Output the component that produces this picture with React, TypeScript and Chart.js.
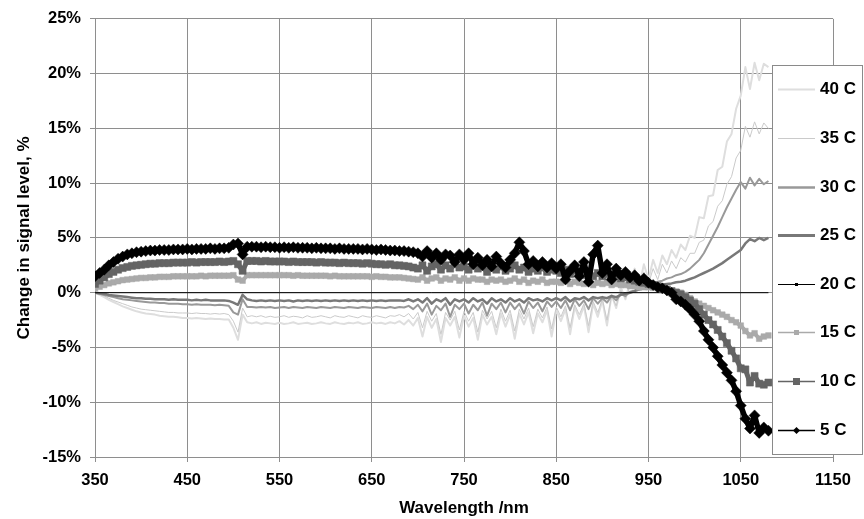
import React, { useEffect, useRef } from "react";
import { Chart, registerables } from "chart.js";

Chart.register(...registerables);

// ---------- data ----------
const wavelengths = [
  350, 355, 360, 365, 370, 375, 380, 385, 390, 395,
  400, 405, 410, 415, 420, 425, 430, 435, 440, 445,
  450, 455, 460, 465, 470, 475, 480, 485, 490, 495,
  500, 505, 510, 515, 520, 525, 530, 535, 540, 545,
  550, 555, 560, 565, 570, 575, 580, 585, 590, 595,
  600, 605, 610, 615, 620, 625, 630, 635, 640, 645,
  650, 655, 660, 665, 670, 675, 680, 685, 690, 695,
  700, 705, 710, 715, 720, 725, 730, 735, 740, 745,
  750, 755, 760, 765, 770, 775, 780, 785, 790, 795,
  800, 805, 810, 815, 820, 825, 830, 835, 840, 845,
  850, 855, 860, 865, 870, 875, 880, 885, 890, 895,
  900, 905, 910, 915, 920, 925, 930, 935, 940, 945,
  950, 955, 960, 965, 970, 975, 980, 985, 990, 995,
  1000, 1005, 1010, 1015, 1020, 1025, 1030, 1035, 1040, 1045,
  1050, 1055, 1060, 1065, 1070, 1075, 1080,
];

const c40 = [
  0.0, -0.2, -0.4, -0.65, -0.85, -1.05, -1.25, -1.4, -1.55, -1.7,
  -1.8, -1.9, -1.95, -2.0, -2.1, -2.15, -2.2, -2.2, -2.25, -2.3,
  -2.3, -2.35, -2.3, -2.35, -2.4, -2.35, -2.4, -2.4, -2.45, -2.45,
  -3.2, -4.3, -2.0, -2.7, -2.8, -2.7, -2.85, -2.75, -2.8, -2.85,
  -2.75, -2.85, -2.8, -2.7, -2.85, -2.8, -2.75, -2.85, -2.8, -2.7,
  -2.8, -2.85, -2.7, -2.8, -2.85, -2.75, -2.8, -2.7, -2.85, -2.8,
  -2.7, -2.8, -2.75, -2.85, -2.7, -2.8, -2.6, -2.9, -2.5, -3.0,
  -2.3, -4.0, -2.2, -3.2, -2.4, -4.5, -2.3, -3.0, -2.2, -4.1,
  -2.1, -3.1, -2.3, -4.3, -2.0, -2.9, -2.2, -3.8, -1.9, -3.1,
  -2.0, -4.2, -1.9, -2.9, -1.8, -3.7, -1.9, -2.7, -1.6, -4.0,
  -1.6, -2.6, -1.5, -3.8, -1.3, -2.4, -1.2, -3.6, -1.0, -2.2,
  -0.7, -3.0, -0.2, -1.4, 0.5, -0.6, 1.0, 2.2, 0.6, 2.6,
  1.2, 3.0, 1.8, 3.4, 2.6, 3.9, 3.2, 4.4, 3.9, 5.2,
  5.0, 6.9, 6.8, 8.8, 8.9, 11.2, 11.5, 13.8, 14.5, 16.8,
  18.0, 20.6, 18.6, 21.0, 19.4, 20.9, 20.6,
];

const c35 = [
  0.0, -0.15, -0.3, -0.5, -0.7, -0.85, -1.0, -1.15, -1.3, -1.4,
  -1.5, -1.55, -1.6, -1.65, -1.7, -1.75, -1.8, -1.8, -1.85, -1.85,
  -1.85, -1.9, -1.85, -1.9, -1.9, -1.95, -1.9, -1.95, -1.9, -2.0,
  -2.6, -3.6, -1.4, -2.2, -2.1, -2.2, -2.1, -2.25, -2.15, -2.25,
  -2.2, -2.1, -2.25, -2.15, -2.2, -2.3, -2.1, -2.25, -2.2, -2.1,
  -2.2, -2.3, -2.1, -2.2, -2.25, -2.1, -2.2, -2.3, -2.1, -2.2,
  -2.25, -2.1, -2.2, -2.3, -2.1, -2.15, -2.0, -2.2, -1.9, -2.4,
  -1.8, -3.2, -1.7, -2.6, -1.9, -3.8, -1.8, -2.5, -1.7, -3.4,
  -1.7, -2.6, -1.8, -3.6, -1.6, -2.4, -1.7, -3.2, -1.5, -2.6,
  -1.6, -3.5, -1.5, -2.4, -1.4, -3.1, -1.5, -2.3, -1.3, -3.3,
  -1.3, -2.2, -1.2, -3.2, -1.1, -2.0, -1.0, -3.0, -0.8, -1.8,
  -0.6, -2.5, -0.3, -1.2, 0.2, -0.5, 0.6, 1.5, 0.4, 1.9,
  0.8, 2.2, 1.2, 2.6, 1.8, 2.9, 2.2, 3.2, 2.8, 3.6,
  3.6, 4.6, 4.8, 6.1, 6.5, 7.9, 8.4, 9.9, 10.6, 12.3,
  13.0, 15.2, 14.2, 15.6, 14.5, 15.5, 15.0,
];

const c30 = [
  0.0, -0.1, -0.2, -0.3, -0.4, -0.5, -0.6, -0.65, -0.7, -0.75,
  -0.8, -0.85, -0.9, -0.9, -0.95, -0.95, -1.0, -1.0, -1.0, -1.05,
  -1.05, -1.1, -1.05, -1.1, -1.1, -1.1, -1.15, -1.1, -1.15, -1.2,
  -1.8, -2.0, -0.6, -1.3, -1.3, -1.35, -1.3, -1.35, -1.3, -1.4,
  -1.35, -1.3, -1.4, -1.3, -1.35, -1.4, -1.3, -1.35, -1.4, -1.3,
  -1.35, -1.4, -1.3, -1.35, -1.4, -1.3, -1.35, -1.4, -1.3, -1.35,
  -1.4, -1.3, -1.35, -1.4, -1.3, -1.4, -1.3, -1.35, -1.2, -1.5,
  -1.1, -1.7, -1.0, -2.0, -1.2, -1.6, -1.0, -2.2, -1.1, -1.5,
  -1.0, -1.9, -1.1, -1.6, -0.9, -2.1, -1.0, -1.5, -0.9, -1.8,
  -0.9, -1.5, -1.0, -1.9, -0.8, -1.4, -0.9, -1.7, -0.8, -1.3,
  -0.8, -1.4, -0.7, -1.6, -0.6, -1.2, -0.7, -1.5, -0.5, -1.0,
  -0.5, -0.9, -0.3, -0.7, -0.1, -0.3, 0.1, 0.2, 0.4, 0.5,
  0.7, 0.8, 1.0, 1.1, 1.3, 1.4, 1.6, 1.7, 1.9, 2.2,
  2.6, 3.0, 3.6, 4.4, 5.2, 6.0, 6.9, 7.8, 8.6, 9.4,
  10.1, 9.5, 10.5, 9.8, 10.4, 9.9, 10.2,
];

const c25 = [
  0.0, -0.05, -0.1, -0.2, -0.25, -0.3, -0.35, -0.4, -0.45, -0.5,
  -0.5, -0.55, -0.55, -0.6, -0.6, -0.6, -0.65, -0.6, -0.65, -0.65,
  -0.65, -0.7, -0.65, -0.7, -0.65, -0.7, -0.7, -0.7, -0.7, -0.75,
  -0.9, -1.1, -0.2, -0.6, -0.7, -0.75, -0.7, -0.75, -0.7, -0.75,
  -0.7, -0.75, -0.7, -0.8, -0.7, -0.75, -0.7, -0.75, -0.7, -0.75,
  -0.7, -0.75, -0.7, -0.75, -0.7, -0.75, -0.7, -0.75, -0.7, -0.75,
  -0.7, -0.75, -0.7, -0.75, -0.7, -0.7, -0.7, -0.75, -0.6, -0.8,
  -0.6, -0.9, -0.5, -1.0, -0.6, -0.8, -0.5, -1.1, -0.6, -0.8,
  -0.6, -0.9, -0.5, -0.8, -0.6, -1.0, -0.5, -0.8, -0.6, -0.9,
  -0.5, -0.8, -0.6, -0.9, -0.5, -0.7, -0.6, -0.8, -0.5, -0.7,
  -0.5, -0.7, -0.4, -0.8, -0.5, -0.6, -0.4, -0.7, -0.4, -0.5,
  -0.4, -0.5, -0.3, -0.4, -0.2, -0.1, 0.0, 0.15, 0.3, 0.4,
  0.5, 0.6, 0.7, 0.75, 0.8, 0.85, 0.95, 1.0, 1.1, 1.25,
  1.4, 1.6, 1.8, 2.0, 2.2, 2.45, 2.7, 3.0, 3.3, 3.6,
  3.9, 4.5, 4.9, 4.7, 5.0, 4.8, 5.0,
];

const wavelengths20 = [350, 1080];
const c20 = [0, 0];

const c15 = [
  0.4, 0.55, 0.7, 0.85, 0.95, 1.05, 1.15, 1.2, 1.25, 1.3,
  1.35, 1.35, 1.4, 1.4, 1.45, 1.45, 1.45, 1.5, 1.5, 1.5,
  1.5, 1.5, 1.5, 1.55, 1.5, 1.55, 1.55, 1.55, 1.55, 1.55,
  1.6, 1.2, 1.1, 1.6, 1.6, 1.6, 1.6, 1.6, 1.6, 1.6,
  1.6, 1.6, 1.6, 1.55, 1.6, 1.55, 1.55, 1.55, 1.55, 1.55,
  1.55, 1.5, 1.55, 1.5, 1.5, 1.5, 1.5, 1.5, 1.5, 1.5,
  1.45, 1.5, 1.45, 1.45, 1.4, 1.4, 1.4, 1.35, 1.3, 1.25,
  1.2, 1.4, 1.1, 1.3, 1.4, 1.1, 1.3, 1.2, 1.4, 1.1,
  1.3, 1.1, 1.3, 1.2, 1.2, 1.0, 1.2, 1.1, 1.2, 1.0,
  1.1, 1.3, 1.0, 1.2, 0.9, 1.1, 1.0, 1.2, 0.9, 1.0,
  1.0, 0.9, 1.1, 0.8, 1.0, 0.9, 0.8, 1.0, 0.7, 0.9,
  0.8, 0.9, 0.7, 0.8, 0.7, 0.7, 0.6, 0.6, 0.5, 0.5,
  0.5, 0.45, 0.4, 0.3, 0.2, -0.1, 0.1, 0.0, -0.2, -0.5,
  -0.8, -1.0, -1.2, -1.4, -1.6, -1.8, -2.0, -2.2, -2.5, -2.7,
  -3.0, -3.5, -3.9, -3.7, -4.2, -4.0, -3.9,
];

const c10 = [
  0.8, 1.1, 1.4, 1.7, 1.9, 2.1, 2.25, 2.35, 2.45, 2.5,
  2.55, 2.6, 2.65, 2.65, 2.7, 2.7, 2.7, 2.75, 2.75, 2.75,
  2.75, 2.8, 2.75, 2.8, 2.8, 2.8, 2.8, 2.85, 2.8, 2.85,
  2.9, 2.6, 2.0, 2.9, 2.9, 2.9, 2.85, 2.9, 2.85, 2.85,
  2.85, 2.85, 2.8, 2.85, 2.8, 2.8, 2.8, 2.8, 2.75, 2.8,
  2.75, 2.75, 2.75, 2.7, 2.75, 2.7, 2.7, 2.7, 2.65, 2.7,
  2.65, 2.6, 2.6, 2.55, 2.6, 2.5, 2.5, 2.45, 2.4, 2.3,
  2.2, 2.5, 2.0, 2.4, 2.6, 2.1, 2.5, 2.2, 2.6, 2.3,
  2.4, 2.1, 2.5, 2.2, 2.4, 1.9, 2.3, 2.1, 2.4, 2.0,
  2.2, 2.5, 2.1, 2.3, 1.9, 2.2, 2.0, 2.3, 1.9, 2.1,
  2.0, 1.8, 2.1, 1.7, 2.0, 1.8, 1.6, 1.9, 1.5, 1.8,
  1.5, 1.7, 1.4, 1.5, 1.3, 1.4, 1.2, 1.1, 1.0, 0.9,
  0.8, 0.7, 0.6, 0.45, 0.3, 0.15, 0.0, -0.15, -0.4, -0.7,
  -1.0, -1.5, -2.0, -2.5, -2.9, -3.4, -4.0, -4.6, -5.3, -6.0,
  -6.9, -7.0, -8.2, -7.6, -8.3, -8.4, -8.2,
];

const c5 = [
  1.5, 1.8, 2.1, 2.5, 2.8, 3.1, 3.3, 3.5, 3.6, 3.7,
  3.75, 3.8, 3.85, 3.85, 3.9, 3.9, 3.9, 3.95, 3.95, 3.95,
  4.0, 3.95, 4.0, 4.0, 4.0, 4.05, 4.0, 4.05, 4.05, 4.1,
  4.4, 4.5, 3.5, 4.2, 4.2, 4.2, 4.15, 4.2, 4.15, 4.15,
  4.1, 4.15, 4.1, 4.15, 4.1, 4.1, 4.1, 4.05, 4.1, 4.05,
  4.05, 4.05, 4.0, 4.05, 4.0, 4.0, 4.0, 4.0, 3.95, 4.0,
  3.95, 3.9, 3.95, 3.9, 3.85, 3.85, 3.8, 3.8, 3.75, 3.7,
  3.6, 3.3, 3.8, 3.2, 3.6, 3.0, 3.5, 3.4, 2.8, 3.5,
  3.0, 3.6, 2.6, 3.2, 2.5, 3.0, 2.4, 3.3, 2.7, 2.3,
  3.0, 3.6, 4.6, 3.8, 2.6, 2.9, 2.4, 2.8, 2.3, 2.7,
  2.2, 2.6, 1.2, 2.0, 2.5, 1.5, 2.8, 1.0, 3.5, 4.3,
  1.8, 2.6, 1.2, 2.2, 1.6, 1.9, 1.4, 1.6, 1.1, 1.3,
  0.9, 0.7, 0.5, 0.4, 0.2, 0.0, -0.6, -0.8, -1.1, -1.5,
  -2.0, -2.6, -3.5, -4.3, -5.0, -5.8, -6.6, -7.3, -8.0, -9.0,
  -10.3, -11.5, -12.4, -11.2, -12.8, -12.3, -12.6,
];

const seriesLabels = ["40 C", "35 C", "30 C", "25 C", "20 C", "15 C", "10 C", "5 C"];
const seriesX = [wavelengths, wavelengths, wavelengths, wavelengths, wavelengths20, wavelengths, wavelengths, wavelengths];
const seriesY = [c40, c35, c30, c25, c20, c15, c10, c5];

const xTickValues = [350, 450, 550, 650, 750, 850, 950, 1050, 1150];
const yTickValues = [-15, -10, -5, 0, 5, 10, 15, 20, 25];

const xTitle = "Wavelength /nm";
const yTitle = "Change in signal level, %";

// ---------- styles ----------
const seriesStyles = [
  { color: "#dedede", width: 2, point: "", radius: 0, legendWidth: 2, legendMarker: 0 },
  { color: "#cacaca", width: 1, point: "", radius: 0, legendWidth: 1, legendMarker: 0 },
  { color: "#999999", width: 2, point: "", radius: 0, legendWidth: 2.5, legendMarker: 0 },
  { color: "#787878", width: 2.5, point: "", radius: 0, legendWidth: 3, legendMarker: 0 },
  { color: "#000000", width: 1, point: "", radius: 0, legendWidth: 1, legendMarker: 1.5 },
  { color: "#aaaaaa", width: 4, point: "rect", radius: 4, legendWidth: 1.5, legendMarker: 2.5 },
  { color: "#646464", width: 5, point: "rect", radius: 5, legendWidth: 1.5, legendMarker: 3.5 },
  { color: "#000000", width: 5.5, point: "rectRot", radius: 5.5, legendWidth: 1.5, legendMarker: 3.5 },
];
const drawOrder = [7, 6, 5, 4, 3, 2, 1, 0];

const FONT = "'Liberation Sans', Arial, Helvetica, sans-serif";

const boxLegend = {
  id: "boxLegend",
  afterDraw(chart: any) {
    const { ctx, chartArea } = chart;
    const left = Math.round(chartArea.right - 61);
    const top = Math.round(chartArea.top + 46);
    const right = Math.round(chartArea.right + 29);
    const bottom = Math.round(chartArea.bottom - 3);
    ctx.save();
    ctx.fillStyle = "#ffffff";
    ctx.fillRect(left, top, right - left, bottom - top);
    ctx.strokeStyle = "#8a8a8a";
    ctx.lineWidth = 1;
    ctx.strokeRect(left + 0.5, top + 0.5, right - left, bottom - top);
    const n = seriesLabels.length;
    const step = (bottom - top) / n;
    seriesLabels.forEach((label, i) => {
      const st = seriesStyles[i];
      const y = Math.round(top + step * (i + 0.5)) + 0.5;
      const x0 = left + 6;
      const x1 = left + 43;
      ctx.strokeStyle = st.color;
      ctx.lineWidth = st.legendWidth;
      ctx.beginPath();
      ctx.moveTo(x0, y);
      ctx.lineTo(x1, y);
      ctx.stroke();
      const mx = (x0 + x1) / 2;
      const r = st.legendMarker;
      if (r > 0) {
        ctx.fillStyle = st.color;
        if (st.point === "rectRot") {
          ctx.beginPath();
          ctx.moveTo(mx, y - r);
          ctx.lineTo(mx + r, y);
          ctx.lineTo(mx, y + r);
          ctx.lineTo(mx - r, y);
          ctx.closePath();
          ctx.fill();
        } else {
          ctx.fillRect(mx - r, y - r, 2 * r, 2 * r);
        }
      }
      ctx.fillStyle = "#000";
      ctx.font = `bold 17px ${FONT}`;
      ctx.textAlign = "left";
      ctx.textBaseline = "middle";
      ctx.fillText(label, left + 48, y);
    });
    ctx.restore();
  },
};

export default function App() {
  const ref = useRef<HTMLCanvasElement | null>(null);

  useEffect(() => {
    document.body.style.margin = "0";
    const canvas = ref.current;
    if (!canvas) return;
    const datasets = seriesLabels.map((label, i) => {
      const st = seriesStyles[i];
      const xs = seriesX[i];
      const ys = seriesY[i];
      return {
        label,
        data: xs.map((x, j) => ({ x, y: ys[j] })),
        borderColor: st.color,
        backgroundColor: st.color,
        borderWidth: st.width,
        pointRadius: st.radius,
        pointStyle: st.point || "circle",
        pointBorderWidth: 0.5,
        pointBorderColor: st.color,
        pointBackgroundColor: st.color,
        tension: 0,
        borderJoinStyle: "round",
        order: drawOrder[i],
      };
    });

    const tickFont = { family: FONT, size: 16.5, weight: "bold" as const };
    const titleFont = { family: FONT, size: 17, weight: "bold" as const };

    const chart = new Chart(canvas, {
      type: "line",
      data: { datasets },
      plugins: [boxLegend],
      options: {
        responsive: false,
        animation: false,
        devicePixelRatio: 1,
        layout: { padding: { left: 0, top: 15, right: 31, bottom: 0 } },
        plugins: { legend: { display: false }, tooltip: { enabled: false } },
        scales: {
          x: {
            type: "linear",
            min: 350,
            max: 1150,
            afterBuildTicks: (s: any) => {
              s.ticks = xTickValues.map((v) => ({ value: v }));
            },
            afterFit: (s: any) => {
              s.height = 62;
            },
            ticks: {
              color: "#000",
              font: tickFont,
              padding: 9,
              maxRotation: 0,
              autoSkip: false,
              callback: (v: any) => String(v),
            },
            grid: { color: "#8e8e8e", lineWidth: 1, tickLength: 5 },
            border: { color: "#8e8e8e", width: 1 },
            title: { display: true, text: xTitle, color: "#000", font: titleFont, padding: { top: 0, bottom: 0 } },
          },
          y: {
            type: "linear",
            min: -15,
            max: 25,
            afterBuildTicks: (s: any) => {
              s.ticks = yTickValues.map((v) => ({ value: v }));
            },
            afterFit: (s: any) => {
              s.width = 95;
            },
            ticks: { color: "#000", font: tickFont, padding: 9, callback: (v: any) => `${v}%` },
            grid: { color: "#8e8e8e", lineWidth: 1, tickLength: 5 },
            border: { color: "#8e8e8e", width: 1 },
            title: { display: true, text: yTitle, color: "#000", font: titleFont, padding: { top: 14, bottom: 0 } },
          },
        },
      },
    } as any);
    return () => chart.destroy();
  }, []);

  return (
    <div style={{ width: 864, height: 519 }}>
      <canvas ref={ref} width={864} height={519} style={{ display: "block", width: 864, height: 519 }} />
    </div>
  );
}
